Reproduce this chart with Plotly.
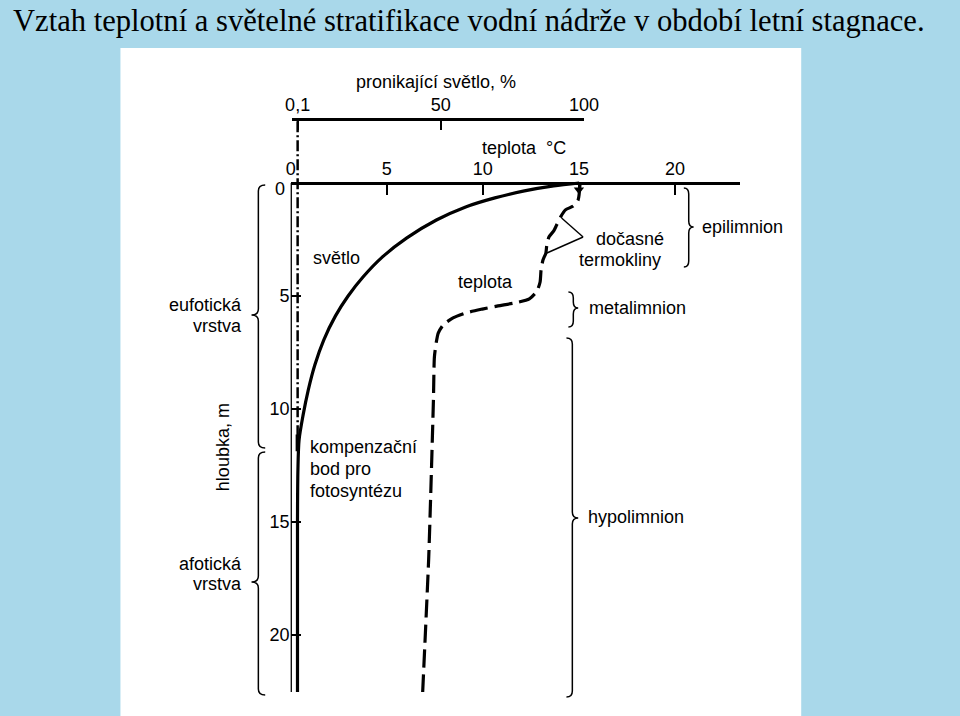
import plotly.graph_objects as go

W, H = 960, 716

# ---------------- data ----------------
temp_ticks = [0, 5, 10, 15, 20]
temp_ticktext = ["0", "5", "10", "15", "20"]
depth_ticks = [0, 5, 10, 15, 20]
depth_ticktext = ["", "5", "10", "15", "20"]
depth_zero_label = "0"
light_tickvals = [-2, 0.1, 50, 100]
light_ticktext = ["", "0,1", "50", "100"]

# penetrating light (%) vs depth (m)
light_depth = [0, 0.13, 0.35, 0.66, 1.06, 1.64, 2.43, 3.27, 4.16, 5.0, 5.88,
               6.95, 8.05, 9.16, 10.27, 11.37, 12.7, 14.9, 22.52]
light_pct = [98.3, 89.4, 79.2, 68.9, 58.7, 48.5, 38.2, 29.7, 22.9, 17.7, 13.3,
             9.2, 6.1, 3.8, 2.0, 0.6, 0.2, 0.05, 0.05]

# temperature (°C) vs depth (m)
temp_depth = [0, 0.75, 1.02, 1.19, 1.50, 1.86, 2.12, 2.39, 2.74, 3.10, 3.41,
              3.85, 4.38, 4.78, 5.13, 5.31, 5.44, 5.58, 5.75, 5.97, 6.28,
              6.64, 7.04, 7.70, 9.60, 14.03, 16.68, 22.52]
temp_c = [15.06, 14.96, 14.71, 14.30, 14.05, 13.84, 13.69, 13.44, 13.33,
          13.28, 13.13, 13.03, 12.98, 12.82, 12.42, 11.65, 10.79, 9.97, 9.11,
          8.45, 7.94, 7.68, 7.58, 7.48, 7.43, 7.28, 7.18, 6.87]

surface_temp = 15.0
compensation_light = 0.1      # %
compensation_depth = 11.5     # m
max_depth = 22.52
light_axis_depth = -2.83      # level of the light scale above the surface

FONT = "Liberation Sans, Arial, Helvetica, sans-serif"
SERIF = "Times New Roman, Liberation Serif, serif"


def px(x, y):
    return x / W, 1 - y / H


fig = go.Figure()

# light curve (solid)
fig.add_trace(go.Scatter(x=light_pct, y=light_depth, xaxis="x2", yaxis="y",
                         mode="lines", line=dict(color="black", width=3.2,
                                                 shape="spline", smoothing=0.8),
                         hoverinfo="skip", showlegend=False))
# 0.1 % isoline (dash-dot) down to the compensation point
fig.add_trace(go.Scatter(x=[compensation_light, compensation_light],
                         y=[light_axis_depth + 0.1, compensation_depth],
                         xaxis="x2", yaxis="y", mode="lines",
                         line=dict(color="black", width=2.5,
                                   dash="11px,3px,2px,3px"),
                         hoverinfo="skip", showlegend=False))
# compensation point marker
fig.add_trace(go.Scatter(x=[compensation_light], y=[compensation_depth],
                         xaxis="x2", yaxis="y", mode="markers",
                         marker=dict(symbol="line-ns", size=12,
                                     line=dict(color="black", width=4)),
                         hoverinfo="skip", showlegend=False))
# temperature curve (dashed)
fig.add_trace(go.Scatter(x=temp_c, y=temp_depth, xaxis="x", yaxis="y",
                         mode="lines", line=dict(color="black", width=3.2,
                                                 dash="18px,7px",
                                                 shape="spline", smoothing=0.6),
                         hoverinfo="skip", showlegend=False))
# surface temperature wedge
fig.add_trace(go.Scatter(x=[surface_temp], y=[0.3], xaxis="x", yaxis="y",
                         mode="markers",
                         marker=dict(symbol="triangle-down", size=9, color="black"),
                         hoverinfo="skip", showlegend=False))

shapes = []
# white panel
shapes.append(dict(type="rect", xref="paper", yref="paper",
                   x0=117 / W, x1=813 / W, y0=0, y1=1 - 48 / H,
                   fillcolor="white", line=dict(width=0), layer="below"))
# depth axis line
shapes.append(dict(type="line", xref="x", yref="y", x0=0, x1=0, y0=0,
                   y1=max_depth, line=dict(color="black", width=2.6)))


def brace(xb, xt, y0, y1, yt, r=6):
    xm = (xb + xt) / 2
    pts = [("M", [(xb, y0)]),
           ("Q", [(xm, y0), (xm, y0 + r)]),
           ("L", [(xm, yt - r)]),
           ("Q", [(xm, yt), (xt, yt)]),
           ("Q", [(xm, yt), (xm, yt + r)]),
           ("L", [(xm, y1 - r)]),
           ("Q", [(xm, y1), (xb, y1)])]
    s = ""
    for cmd, pl in pts:
        s += cmd + " " + " ".join("%.5f,%.5f" % px(a, b) for a, b in pl) + " "
    return dict(type="path", xref="paper", yref="paper", path=s.strip(),
                line=dict(color="black", width=1.5))


shapes.append(brace(693, 703, 188, 267, 227))   # epilimnion
shapes.append(brace(575, 585, 292, 327, 308))   # metalimnion
shapes.append(brace(573, 585, 338, 697, 518))   # hypolimnion
shapes.append(brace(265, 251, 185, 448, 315))   # eufotická
shapes.append(brace(265, 251, 452, 695, 582))   # afotická

# leader lines "dočasné termokliny"
for (xa, ya) in [(568, 218), (553, 253)]:
    x0, y0 = px(xa, ya)
    x1, y1 = px(590, 237)
    shapes.append(dict(type="line", xref="paper", yref="paper", x0=x0, y0=y0,
                       x1=x1, y1=y1, line=dict(color="black", width=1.4)))

annotations = []


def ann(text, x, y, xanchor="center", size=18, family=FONT, textangle=0):
    X, Y = px(x, y)
    annotations.append(dict(text=text, x=X, y=Y, xref="paper", yref="paper",
                            xanchor=xanchor, yanchor="middle", showarrow=False,
                            textangle=textangle,
                            font=dict(family=family, size=size, color="black")))


ann("Vztah teplotní a světelné stratifikace vodní nádrže v období letní stagnace.",
    5, 21, xanchor="left", size=30.6, family=SERIF)
ann("pronikající světlo, %", 440, 82)
ann("teplota  °C", 530, 148)
ann(depth_zero_label, 287, 189, xanchor="right")
ann("světlo", 338, 258)
ann("teplota", 490, 282)
ann("dočasné", 638, 239)
ann("termokliny", 628, 260)
ann("epilimnion", 753, 227)
ann("metalimnion", 646, 308)
ann("hypolimnion", 644, 517)
ann("eufotická", 243, 305, xanchor="right")
ann("vrstva", 243, 326, xanchor="right")
ann("afotická", 243, 564, xanchor="right")
ann("vrstva", 243, 584, xanchor="right")
ann("hloubka, m", 222, 447, textangle=-90)
ann("kompenzační", 309, 447, xanchor="left")
ann("bod pro", 309, 469, xanchor="left")
ann("fotosyntézu", 309, 491, xanchor="left")

tickfont = dict(family=FONT, size=18, color="black")

fig.update_layout(
    width=W, height=H, autosize=False,
    margin=dict(l=0, r=0, t=0, b=0, pad=0),
    paper_bgcolor="#a9d8ea", plot_bgcolor="rgba(0,0,0,0)",
    showlegend=False,
    shapes=shapes, annotations=annotations,
    xaxis=dict(domain=[291 / W, 750 / W], range=[0, 23.36],
               anchor="free", position=1 - 183 / H, side="top",
               showline=True, linecolor="black", linewidth=3,
               ticks="inside", ticklen=10, tickwidth=2, tickcolor="black",
               tickvals=temp_ticks, ticktext=temp_ticktext, tickfont=tickfont,
               showgrid=False, zeroline=False, fixedrange=True),
    xaxis2=dict(domain=[292 / W, 591 / W], range=[-2, 100],
                anchor="free", position=1 - 119 / H, side="top",
                showline=True, linecolor="black", linewidth=2.5,
                ticks="inside", ticklen=9, tickwidth=2, tickcolor="black",
                tickvals=light_tickvals, ticktext=light_ticktext,
                tickfont=tickfont,
                showgrid=False, zeroline=False, fixedrange=True),
    yaxis=dict(domain=[1 - 692 / H, 1 - 119 / H],
               range=[max_depth, light_axis_depth], anchor="x",
               showline=False, ticks="inside", ticklen=10, tickwidth=2,
               tickcolor="black", tickvals=depth_ticks, ticktext=depth_ticktext,
               tickfont=tickfont, showgrid=False, zeroline=False,
               fixedrange=True),
)

fig.write_html("out.html",
               config={"displayModeBar": False, "responsive": False},
               post_script="document.body.style.margin='0';")
